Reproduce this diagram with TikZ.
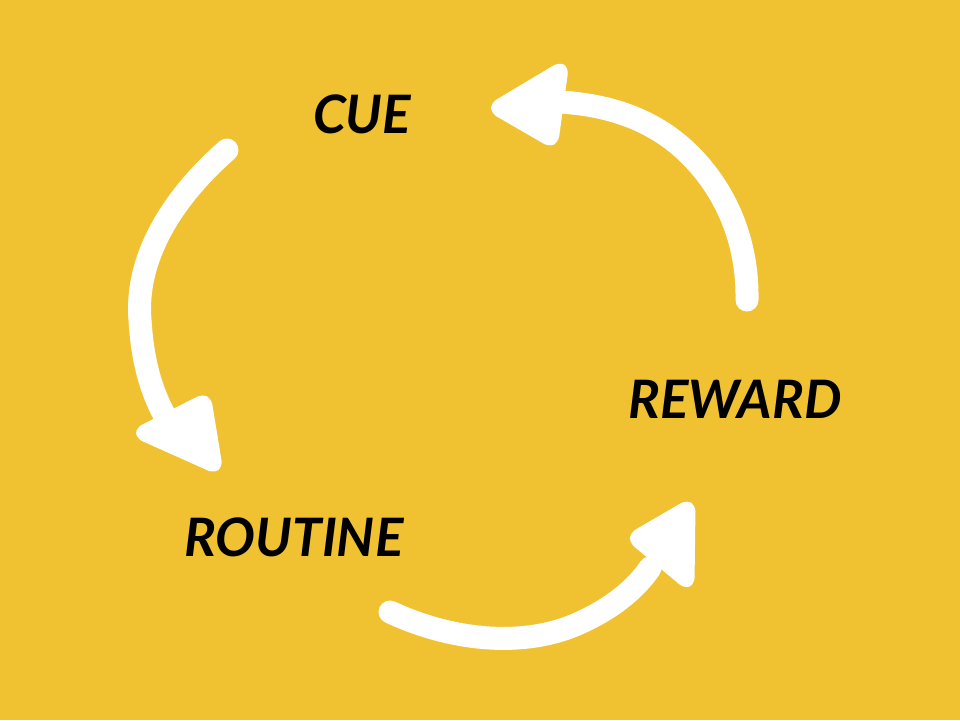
\documentclass[tikz,border=0pt]{standalone}
\usepackage{fontspec}
\setmainfont{Lato}
\definecolor{bg}{RGB}{240,194,50}
\tikzset{
  lbl/.style={font=\fontsize{53}{60}\selectfont\bfseries\itshape, text=black, inner sep=0pt},
  shaft/.style={draw=white, line width=23pt, line cap=round},
  headtri/.style={fill=white, draw=white, line width=13pt, line join=round, rounded corners=5pt}
}
\begin{document}
\begin{tikzpicture}[x=1pt,y=-1pt]
\fill[bg] (0,0) rectangle (960,720);
\useasboundingbox (0,0) rectangle (960,720);
% labels
\node[lbl] (cue) at (362,114) {CUE};
\node[lbl] (reward) at (735,399) {REWARD};
\node[lbl] (routine) at (294,537) {ROUTINE};
% arrow 1: cue -> routine
\coordinate (a1s) at (227,150);
\coordinate (a1e) at (170,425);
\draw[shaft] (a1s) .. controls (170,200) and (135,260) .. (140,320) .. controls (143,370) and (155,400) .. (a1e);
\path[headtri] (140,433) -- (205,400) -- (216,467) -- cycle;
% arrow 2: routine -> reward
\coordinate (a2s) at (390,612);
\coordinate (a2e) at (650,568);
\draw[shaft] (a2s) .. controls (450,640) and (520,648) .. (575,625) .. controls (610,610) and (635,590) .. (a2e);
\path[headtri] (634,538) -- (689,506) -- (688,583) -- cycle;
% arrow 3: reward -> cue
\coordinate (a3s) at (747,300);
\coordinate (a3e) at (560,102);
\draw[shaft] (a3s) .. controls (748,240) and (725,190) .. (690,155) .. controls (655,120) and (610,105) .. (a3e);
\path[headtri] (495,108) -- (562,68) -- (552,141) -- cycle;
\end{tikzpicture}
\end{document}
